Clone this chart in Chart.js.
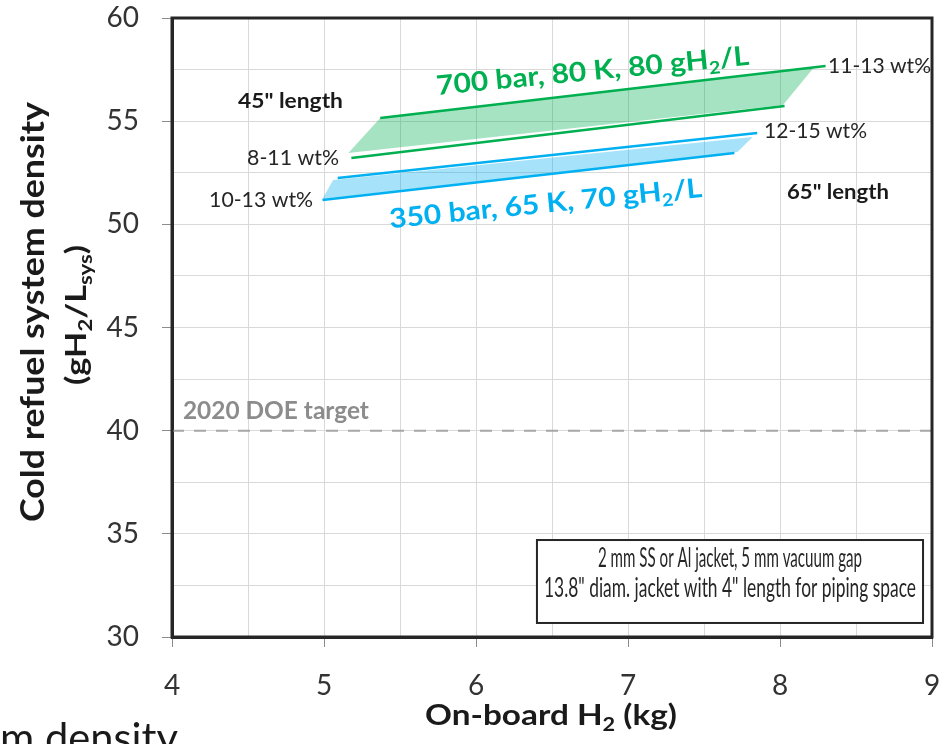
<!DOCTYPE html>
<html>
<head>
<meta charset="utf-8">
<script src="https://cdn.jsdelivr.net/npm/chart.js@4/dist/chart.umd.min.js"></script>
<style>
  body { margin: 0; background: #fff; }
  canvas { display: block; }
</style>
</head>
<body>
<canvas id="myChart" width="949" height="744"></canvas>
<script>
// axes
const xRange = [4, 9];
const yRange = [30, 60];
const xStep = 0.5, yStep = 2.5;   // grid spacing
const xLabelEvery = 1, yLabelEvery = 5;

// 700 bar, 80 K band (on-board H2 kg, density gH2/L)
const green700Upper = [[5.37, 55.15], [8.30, 57.67]];
const green700Lower = [[5.18, 53.21], [8.03, 55.73]];
const green700Band = [[5.16, 53.46], [5.37, 55.15], [8.22, 57.58], [8.02, 55.78]];

// 350 bar, 65 K band
const blue350Upper = [[5.09, 52.24], [7.85, 54.43]];
const blue350Lower = [[4.99, 51.18], [7.70, 53.46]];
const blue350Band = [[4.99, 51.23], [5.06, 52.15], [7.82, 54.23], [7.72, 53.50]];

// 2020 DOE target
const doeTarget = 40;

const GREEN = '#00B050', BLUE = '#00B0F0';

const pts = arr => arr.map(p => ({ x: p[0], y: p[1] }));

// text helper: parts = [[text, isSub], ...]
function richText(ctx, parts, x, y, o) {
    ctx.save();
    ctx.translate(x, y);
    if (o.angle) ctx.rotate(o.angle * Math.PI / 180);
    const f = sz => (o.bold ? 'bold ' : '') + sz + 'px Lato';
    let w = 0;
    const ws = parts.map(([s, sub]) => {
        ctx.font = f(sub ? o.size * 0.65 : o.size);
        const m = ctx.measureText(s).width;
        w += m;
        return m;
    });
    if (o.width) ctx.scale(o.width / w, 1);
    let cx = o.align === 'right' ? -w : o.align === 'center' ? -w / 2 : 0;
    ctx.fillStyle = o.color || '#262626';
    ctx.textBaseline = 'alphabetic';
    ctx.textAlign = 'left';
    parts.forEach(([s, sub], i) => {
        ctx.font = f(sub ? o.size * 0.65 : o.size);
        ctx.fillText(s, cx, sub ? o.size * 0.2 : 0);
        cx += ws[i];
    });
    ctx.restore();
}

// labels placed in data units
const plotLabels = [
    { parts: [['700 bar, 80 K, 80 gH'], ['2', 1], ['/L']], x: 6.773, y: 57.0, size: 27, bold: 1, color: GREEN, align: 'center', width: 314, angle: -5.5 },
    { parts: [['350 bar, 65 K, 70 gH'], ['2', 1], ['/L']], x: 6.464, y: 50.57, size: 27, bold: 1, color: BLUE, align: 'center', width: 314, angle: -5.7 },
    { parts: [['45" length']], x: 4.434, y: 55.64, size: 21, bold: 1, color: '#1a1a1a', width: 105 },
    { parts: [['65" length']], x: 8.046, y: 51.23, size: 21, bold: 1, color: '#1a1a1a', width: 102 },
    { parts: [['8-11 wt%']], x: 5.099, y: 52.875, size: 21, align: 'right', width: 92 },
    { parts: [['10-13 wt%']], x: 4.928, y: 50.84, size: 21, align: 'right', width: 104 },
    { parts: [['12-15 wt%']], x: 7.895, y: 54.18, size: 21, width: 103 },
    { parts: [['11-13 wt%']], x: 8.316, y: 57.33, size: 21, width: 103 },
    { parts: [['2020 DOE target']], x: 4.072, y: 40.56, size: 24, bold: 1, color: '#8c8c8c', width: 186 }
];
const noteBox = { x0: 6.401, x1: 8.941, y0: 34.70, y1: 30.68 };
const noteLines = [
    { text: '2 mm SS or Al jacket, 5 mm vacuum gap', y: 33.39, width: 264 },
    { text: '13.8" diam. jacket with 4" length for piping space', y: 31.94, width: 372 }
];

const extras = {
    id: 'extras',
    afterDraw(chart) {
        const ctx = chart.ctx, xs = chart.scales.x, ys = chart.scales.y, a = chart.chartArea;
        // note box
        const bx = xs.getPixelForValue(noteBox.x0), by = ys.getPixelForValue(noteBox.y0);
        const bw = xs.getPixelForValue(noteBox.x1) - bx, bh = ys.getPixelForValue(noteBox.y1) - by;
        ctx.save();
        ctx.fillStyle = '#fff';
        ctx.fillRect(bx, by, bw, bh);
        ctx.strokeStyle = '#262626';
        ctx.lineWidth = 2;
        ctx.strokeRect(bx, by, bw, bh);
        ctx.restore();
        const cx = bx + bw / 2;
        noteLines.forEach(l => richText(ctx, [[l.text]], cx, ys.getPixelForValue(l.y), { size: 26, align: 'center', width: l.width }));

        plotLabels.forEach(l => richText(ctx, l.parts, xs.getPixelForValue(l.x), ys.getPixelForValue(l.y), l));

        // frame
        ctx.save();
        ctx.strokeStyle = '#262626';
        ctx.lineWidth = 3;
        ctx.strokeRect(a.left, a.top, a.right - a.left, a.bottom - a.top);
        ctx.restore();

        // axis titles
        richText(ctx, [['On-board H'], ['2', 1], [' (kg)']], (a.left + a.right) / 2 - 1, 725, { size: 28, bold: 1, align: 'center', width: 252, color: '#1a1a1a' });
        richText(ctx, [['Cold refuel system density']], 44, 312, { size: 32, bold: 1, align: 'center', width: 420, angle: -90, color: '#1a1a1a' });
        richText(ctx, [['(gH'], ['2', 1], ['/L'], ['sys', 1], [')']], 86, 315, { size: 28, bold: 1, align: 'center', width: 140, angle: -90, color: '#1a1a1a' });

        // text from the page behind the chart
        richText(ctx, [['m density']], 0, 753, { size: 42, width: 178, color: '#1a1a1a' });
    }
};

const lineDs = (data, color) => ({
    data: pts(data), showLine: true, borderColor: color, borderWidth: 2.5,
    pointRadius: 0, fill: false
});
const bandDs = (data, color) => ({
    data: pts(data), showLine: true, borderWidth: 0, borderColor: 'transparent',
    backgroundColor: color, pointRadius: 0, fill: 'shape'
});

new Chart(document.getElementById('myChart'), {
    type: 'scatter',
    data: {
        datasets: [
            lineDs(green700Upper, GREEN),
            lineDs(green700Lower, GREEN),
            lineDs(blue350Upper, BLUE),
            lineDs(blue350Lower, BLUE),
            {
                data: pts([[xRange[0], doeTarget], [xRange[1], doeTarget]]), showLine: true,
                borderColor: '#a6a6a6', borderWidth: 2, borderDash: [12, 10], pointRadius: 0
            },
            bandDs(green700Band, 'rgba(0,176,80,0.35)'),
            bandDs(blue350Band, 'rgba(0,176,240,0.35)')
        ]
    },
    options: {
        responsive: false,
        animation: false,
        devicePixelRatio: 1,
        layout: { padding: { left: 0, top: 18, right: 17, bottom: 0 } },
        plugins: { legend: { display: false }, tooltip: { enabled: false } },
        scales: {
            x: {
                type: 'linear', min: xRange[0], max: xRange[1],
                afterFit: s => { s.height = 107; s.paddingLeft = 0; s.paddingRight = 0; },
                ticks: {
                    stepSize: xStep, autoSkip: false, maxRotation: 0, padding: 22,
                    color: '#333', font: { family: 'Lato', size: 28 },
                    callback: v => (v % xLabelEvery === 0 ? v : '')
                },
                grid: {
                    color: '#d9d9d9', tickLength: 10,
                    tickColor: c => (c.tick && c.tick.value % xLabelEvery === 0 ? '#8c8c8c' : 'rgba(0,0,0,0)')
                },
                border: { color: '#262626', width: 3 }
            },
            y: {
                min: yRange[0], max: yRange[1],
                afterFit: s => { s.width = 172; s.paddingTop = 0; s.paddingBottom = 0; },
                ticks: {
                    stepSize: yStep, autoSkip: false, padding: 23,
                    color: '#333', font: { family: 'Lato', size: 28 },
                    callback: v => (v % yLabelEvery === 0 ? v : '')
                },
                grid: {
                    color: '#d9d9d9', tickLength: 10,
                    tickColor: c => (c.tick && c.tick.value % yLabelEvery === 0 ? '#8c8c8c' : 'rgba(0,0,0,0)')
                },
                border: { color: '#262626', width: 3 }
            }
        }
    },
    plugins: [extras]
});
</script>
</body>
</html>
